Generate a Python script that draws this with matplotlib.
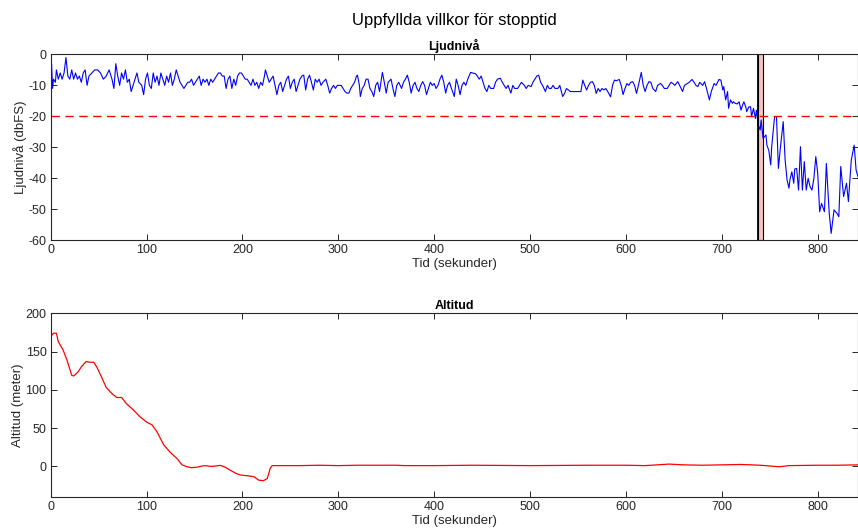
import numpy as np
import matplotlib
matplotlib.use("Agg")
import matplotlib.pyplot as plt

plt.rcParams['font.family'] = ['Liberation Sans', 'DejaVu Sans']
plt.rcParams['axes.unicode_minus'] = False

# ljudniva (dbFS), (tid, varde) avlasta fran bilden
level_t = [0, 1, 2, 3, 5, 6, 8, 10, 12, 14, 16, 18, 20, 22, 24, 26, 28, 30, 32, 34, 36, 38, 40, 43, 46, 49,
           52, 55, 58, 61, 64, 66, 68, 70, 72, 74, 76, 78, 80, 82, 84, 86, 88, 90, 92, 95, 97, 99, 101, 103,
           105, 107, 109, 111, 113, 115, 117, 119, 121, 123, 125, 127, 129, 131, 133, 135, 137, 139, 141, 143,
           145, 147, 149, 151, 153, 155, 157, 159, 161, 163, 165, 167, 169, 171, 173, 175, 177, 179, 181, 183,
           185, 187, 189, 191, 193, 195, 197, 199, 201, 203, 205, 207, 209, 211, 213, 215, 217, 219, 221, 223,
           224, 226, 228, 230, 232, 234, 236, 238, 240, 242, 244, 246, 248, 250, 252, 254, 256, 258,
           260, 262, 264, 266, 268, 270, 272, 274, 276, 278, 280, 282, 284, 287, 289, 291, 293, 295, 297, 299,
           301, 303, 305, 307, 309, 311, 313, 315, 317, 319, 320, 322, 323, 325, 327, 329, 331, 333, 335, 337,
           339, 341, 343, 345, 346, 348, 350, 352, 355, 357, 359, 361, 363, 366, 368, 370, 372, 374, 376, 378,
           380, 382, 384, 386, 388, 390, 392, 394, 396, 398, 400, 402, 404, 406, 408, 410, 412, 414, 416, 418,
           421, 423, 425, 427, 429, 431, 433, 435, 438, 440, 443, 445, 447, 449, 451, 453, 455, 457, 459, 462,
           464, 466, 469, 471, 473, 475, 477, 480, 482, 484, 487, 489, 491, 494, 496, 498, 501, 503, 505, 507,
           509, 511, 513, 516, 518, 520, 522, 524, 526, 529, 531, 534,
           536, 538, 540, 542, 544, 546, 548, 550, 553, 555, 557, 559, 561, 563, 565, 567, 569, 571, 573, 575,
           577, 579, 581, 584, 586, 588, 590, 593, 595, 597, 599, 601, 603, 605, 607, 609, 611, 613, 616, 618,
           620, 622, 624, 626, 628, 631, 633, 636, 638, 640, 643, 645, 647, 649, 651, 654, 656, 659, 661, 664,
           666, 669, 671, 673, 675, 677, 680, 682, 684, 687, 689, 692, 694, 697, 699,
           701, 702, 704, 706, 707, 709, 711, 712, 714, 716, 718, 720, 722, 723, 725, 726, 728, 730, 731, 733,
           735, 736, 738, 740, 741, 743, 746, 747, 749, 751, 752, 755, 757, 759, 761, 764, 766, 768, 770, 771,
           773, 775, 776, 778, 780, 782, 784, 786, 788, 790, 792, 794, 796, 798, 800, 802, 804, 807, 809, 812,
           814, 817, 820, 822, 824, 827, 830, 832, 835, 838, 840, 842]
level_db = [-7, -3, -11, -8, -9, -5, -8, -6, -8, -6, -1, -7, -8, -5, -8, -6, -8, -7, -9, -6, -5, -10, -7, -6, -5, -5,
            -6, -8, -7, -5, -8, -11, -3, -7, -10, -6, -8, -5, -9, -8, -12, -10, -8, -6, -9, -10, -13, -8, -6, -10,
            -11, -6, -9, -7, -10, -6, -8, -10, -7, -9, -6, -10, -8, -5, -7, -9, -10, -11, -10, -9,
            -9, -8, -10, -9, -8, -7, -10, -8, -9, -8, -10, -8, -9, -8, -7, -6, -6, -7, -7, -11,
            -8, -7, -11, -8, -10, -7, -6, -6, -7, -8, -8, -9, -10, -8, -10, -9, -11, -9, -10, -7,
            -5, -7, -9, -8, -7, -10, -13, -10, -9, -12, -10, -8, -7, -11, -9, -8, -12, -10,
            -8, -7, -6.7, -11.5, -8, -6.7, -9, -11.5, -8, -9, -8, -10, -9, -8, -10, -12.5, -11, -10, -11, -10,
            -10, -10, -11, -12, -12.5, -12.5, -11, -10, -9, -7, -6.7, -10, -13.6, -11, -10, -8, -8, -11, -12, -13.6,
            -10, -9, -12, -8, -5.8, -9, -12.5, -9, -8, -11, -13.6, -10, -9, -11, -9, -8, -6.7, -9, -12.5, -10,
            -9, -11, -12, -10, -8.8, -10, -13, -11, -9, -10, -9.4, -11, -10, -8, -6.7, -9, -12.5, -10, -9, -11,
            -13.6, -8, -10, -13, -10, -9, -10, -8, -5.8, -6, -6.2, -7, -8, -7, -9, -11, -12, -10, -11, -11,
            -9, -8, -7.7, -9, -10, -11, -10, -12.5, -10, -11, -11, -10, -9, -10, -11, -10, -10.4, -9, -8, -7,
            -6.7, -9, -10, -12, -10, -11, -11, -10, -11, -11, -10, -13.6,
            -12.6, -11, -11.5, -12, -12, -12, -12, -12, -12, -8.3, -10, -11.5, -10, -9, -8.8, -10, -12.6, -11, -12, -11,
            -11.5, -11, -12, -13.7, -10, -8.3, -8.5, -8.1, -10, -13, -11, -9.4, -10, -9, -8.8, -10, -12.6, -10, -5.8, -10,
            -12, -10, -8.8, -9, -11, -12, -10, -9.4, -10, -11, -11, -10, -9, -9.4, -10, -8.8, -10, -12, -10, -9.4,
            -9, -8.1, -9, -10, -10.4, -9, -10, -8.8, -11, -14.7, -12, -9.4, -10, -8.1, -8.3,
            -11.5, -10.4, -14.7, -12, -17.4, -14.7, -15.8, -15.3, -15.8, -16, -15.3, -18, -16, -15.3, -17, -18.5, -17, -16.9, -20.1, -17.4,
            -20.7, -18, -22.8, -24.4, -21.2, -27.1, -26, -29.3, -31, -35.7, -29.8, -20.1, -20.1, -36.8, -30.3, -21.7, -34.1, -40.5, -43.2, -40.5,
            -37.9, -41.6, -37, -36.8, -43.8, -29.8, -43.8, -34.6, -43.8, -40, -42.7, -43.8, -40, -33, -38.4, -50.8, -48.1, -50.8, -35.2, -51.3,
            -57.8, -50.2, -51.3, -52.4, -36.2, -45.9, -41.6, -47.5, -34.1, -29.3, -37.3, -39.5]

threshold_db = -20
stop_start = 738
stop_end = 743

# altitud (meter)
alt_t = [0, 3, 6, 8, 13, 17, 22, 24, 29, 32, 37, 41, 45, 48, 53, 58, 64, 69, 74, 79, 86, 93, 100, 106,
         111, 118, 125, 132, 137, 142, 147, 153, 156, 161, 167, 172, 177, 182, 187, 193, 198, 205, 212,
         217, 222, 226, 229, 231, 260, 280, 300, 320, 360, 370, 400, 440, 500, 560, 600, 620, 645, 660,
         680, 700, 720, 740, 760, 770, 800, 820, 842]
alt_m = [169.5, 174, 174, 163, 152, 139, 119, 118, 124, 130, 137, 136, 136, 130, 117, 103, 95, 90, 90, 82,
         74, 65, 58, 54, 45, 28, 18, 10, 2, -0.4, -1.7, -1, 0, 1, 0, 0.5, 1.3, -1, -4.8, -9, -11.3, -12.2,
         -13.5, -18, -18.7, -15.7, -2.6, 1, 1, 1.5, 1, 1.5, 1.5, 1, 1, 1.5, 1, 1.5, 1.5, 1, 3, 2, 1.5, 2,
         2.5, 1.5, -0.5, 1, 1.5, 1.5, 2]

xmax = 842
axc = '#262626'

fig = plt.figure(figsize=(8.58, 5.28), dpi=100)
ax1 = fig.add_axes([0.059, 0.545, 0.941, 0.352])
ax2 = fig.add_axes([0.059, 0.0587, 0.941, 0.348])

def style(ax):
    for s in ax.spines.values():
        s.set_color(axc)
        s.set_linewidth(0.8)
    ax.tick_params(direction='in', top=True, right=True, length=4, width=0.7,
                   labelsize=9, colors=axc, pad=3)

ax1.plot(level_t, level_db, color='b', lw=0.8)
ax1.axhline(threshold_db, color='r', ls=(0, (6, 4)), lw=1)
ax1.axvspan(stop_start, stop_end, facecolor='#f5c4c4', edgecolor='k', lw=0.8)
ax1.axvline(stop_start, color='k', lw=1.3)
ax1.set_xlim(0, xmax)
ax1.set_ylim(-60, 0)
ax1.set_yticks(range(-60, 1, 10))
ax1.set_xticks(range(0, 801, 100))
ax1.set_title('Ljudnivå', fontsize=9, fontweight='bold', pad=3)
ax1.set_xlabel('Tid (sekunder)', fontsize=9.5, color=axc, labelpad=1)
ax1.set_ylabel('Ljudnivå (dbFS)', fontsize=9.5, color=axc, labelpad=1)
style(ax1)

ax2.plot(alt_t, alt_m, color='r', lw=0.9)
ax2.set_xlim(0, xmax)
ax2.set_ylim(-40, 200)
ax2.set_yticks(range(0, 201, 50))
ax2.set_xticks(range(0, 801, 100))
ax2.set_title('Altitud', fontsize=9, fontweight='bold', pad=3)
ax2.set_xlabel('Tid (sekunder)', fontsize=9.5, color=axc, labelpad=1)
ax2.set_ylabel('Altitud (meter)', fontsize=9.5, color=axc, labelpad=1)
style(ax2)

fig.text(0.529, 0.962, 'Uppfyllda villkor för stopptid', ha='center', va='center', fontsize=12)

fig.savefig('out.png', dpi=100)
